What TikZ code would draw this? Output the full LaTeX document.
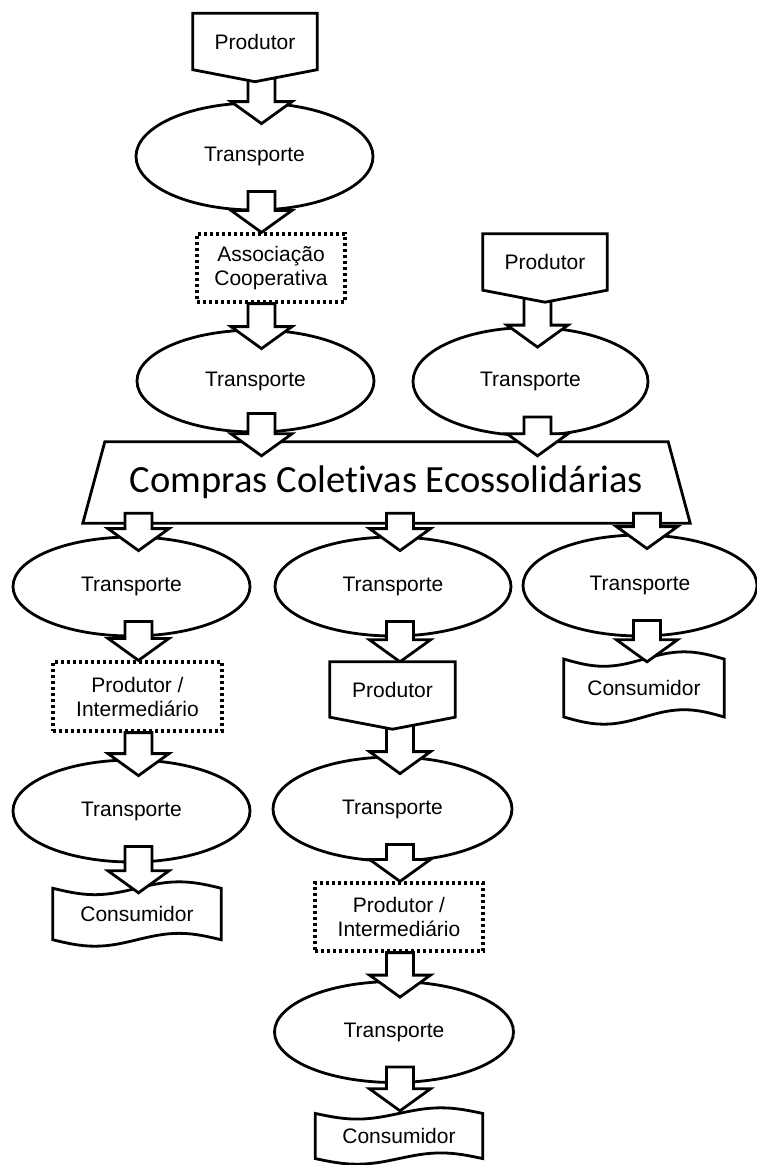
\documentclass[tikz,border=0pt]{standalone}
\usepackage{fontspec}
\setmainfont{Liberation Sans}
\newfontfamily\calibri[Ligatures=NoCommon]{Carlito}
\usetikzlibrary{shapes.geometric,calc}
\pgfdeclarelayer{bg}
\pgfdeclarelayer{fg}
\pgfdeclarelayer{fgtext}
\pgfsetlayers{bg,main,fg,fgtext}

% block arrow: #1 column node, #2 source, #3 target, #4 tail inset, #5 tip inset
\newcommand\flow[5]{%
  \draw[flowarrow] let \p1=(#1.center), \p2=(#2.south), \p3=(#3.north),
    \n1={\x1+7}, \n2={\y2+#4}, \n3={\y3-#5} in
    (\n1-13.5,\n2) -- (\n1+13.5,\n2) -- (\n1+13.5,\n3+22) -- (\n1+30.5,\n3+22)
    -- (\n1,\n3) -- (\n1-30.5,\n3+22) -- (\n1-13.5,\n3+22) -- cycle;}

% off-page connector outline around a node
\newcommand\prodoutline[1]{%
  \draw[shapeline] (#1.north west) -- (#1.north east) -- (#1.south east)
    -- ($(#1.south)+(0,-12)$) -- (#1.south west) -- cycle;}

% punched-tape outline around a node
\newcommand\tapeoutline[1]{%
  \draw[shapeline] let \p1=(#1.north west), \p2=(#1.south east),
    \n1={(\x2-\x1)/4}, \n2={0.1*(\y1-\y2)} in
    (\x1,\y1-\n2) sin (\x1+\n1,\y1-2*\n2) cos (\x1+2*\n1,\y1-\n2)
    sin (\x1+3*\n1,\y1) cos (\x2,\y1-\n2)
    -- (\x2,\y2+\n2) sin (\x2-\n1,\y2+2*\n2) cos (\x2-2*\n1,\y2+\n2)
    sin (\x1+\n1,\y2) cos (\x1,\y2+\n2) -- cycle;}

\begin{document}
\begin{tikzpicture}[x=1pt,y=1pt,
  shapeline/.style={draw=black, line width=2.8pt, fill=white},
  lbl/.style={font=\fontsize{21}{24}\selectfont, text=black, align=center, inner sep=0pt},
  transp/.style={shapeline, lbl, ellipse, minimum width=237pt, minimum height=101pt},
  dotbox/.style={draw=black, fill=white, lbl, rectangle, line width=3.2pt,
    dash pattern=on 3.2pt off 2.8pt, minimum width=168pt, minimum height=68pt},
  prodbox/.style={lbl, rectangle, minimum width=124pt, minimum height=56pt},
  tapebox/.style={lbl, rectangle, minimum width=168pt, minimum height=64pt},
  flowarrow/.style={draw=black, line width=2.8pt, fill=white, line join=miter},
]
\begin{pgfonlayer}{bg}
  \fill[white] (0,0) rectangle (757,-1165);
\end{pgfonlayer}
\useasboundingbox (0,0) rectangle (757,-1165);

% upper branch
\node[transp, minimum height=107pt] (E1) at (254.5,-156.5) {Transporte};
\node[dotbox, minimum width=148pt] (assoc) at (271,-268) {Associação\\Cooperativa};
\node[transp, minimum height=102pt] (E2) at (255.5,-381) {Transporte};
\node[transp, minimum width=235pt, minimum height=108pt] (E3) at (530.5,-381.5) {Transporte};

% collective purchasing
\node[lbl, font=\calibri\fontsize{38.5}{40}\selectfont, minimum width=563pt, minimum height=81pt]
  (cc) at (386.5,-482.5) {Compras Coletivas Ecossolidárias};
\begin{pgfonlayer}{bg}
  \draw[shapeline] (cc.north west) -- (cc.north east) -- ($(cc.south east)+(22,0)$)
    -- ($(cc.south west)+(-22,0)$) -- cycle;
\end{pgfonlayer}

% lower branches
\node[transp, minimum height=99pt] (L3) at (131.5,-586.5) {Transporte};
\node[transp, minimum width=236pt, minimum height=99pt] (M1) at (393,-586.5) {Transporte};
\node[transp, minimum width=234pt, minimum height=101pt] (R1) at (640,-585.5) {Transporte};
\node[dotbox, minimum width=169pt, minimum height=69pt] (Lbox) at (137.5,-696.5) {Produtor /\\Intermediário};
\node[transp, minimum height=102pt] (L4) at (131.5,-811) {Transporte};
\node[transp, minimum width=239pt, minimum height=104pt] (M2) at (392.5,-809) {Transporte};
\node[dotbox] (Mbox) at (399,-917) {Produtor /\\Intermediário};
\node[transp, minimum width=239pt, minimum height=101pt] (M3) at (394,-1032) {Transporte};

\node[tapebox, minimum width=160pt, minimum height=72pt] (RC) at (644,-688) {\raisebox{-3pt}{Consumidor}};
\node[tapebox, minimum width=168pt, minimum height=64pt] (LC) at (137,-914) {\raisebox{-3pt}{Consumidor}};
\node[tapebox, minimum width=167pt, minimum height=56pt] (MC) at (399,-1136) {\raisebox{-2pt}{Consumidor}};
\begin{pgfonlayer}{bg}
  \tapeoutline{RC}
  \tapeoutline{LC}
  \tapeoutline{MC}
\end{pgfonlayer}

% producers sit above the arrows
\begin{pgfonlayer}{fgtext}
  \node[prodbox] (P1) at (255,-41.5) {Produtor};
  \node[prodbox] (P2) at (545,-262) {Produtor};
  \node[prodbox, minimum width=125pt, minimum height=55pt] (P3) at (392.5,-689.5) {Produtor};
\end{pgfonlayer}
\begin{pgfonlayer}{fg}
  \prodoutline{P1}
  \prodoutline{P2}
  \prodoutline{P3}
\end{pgfonlayer}

% flow arrows
\flow{E1}{P1}{E1}{0}{22}
\flow{E1}{E1}{assoc}{20}{0}
\flow{E1}{assoc}{E2}{0}{20}
\flow{E1}{E2}{cc}{20}{14}
\flow{E3}{P2}{E3}{0}{21}
\flow{E3}{E3}{cc}{20}{14}
\flow{L3}{cc}{L3}{10}{15}
\flow{M1}{cc}{M1}{10}{15}
\flow{R1}{cc}{R1}{10}{15}
\flow{L3}{L3}{Lbox}{16}{0}
\flow{L3}{Lbox}{L4}{0}{17}
\flow{L3}{L4}{LC}{17}{11}
\flow{M1}{M1}{P3}{16}{0}
\flow{M1}{P3}{M2}{0}{18}
\flow{M1}{M2}{Mbox}{18}{0}
\flow{M1}{Mbox}{M3}{0}{17}
\flow{M1}{M3}{MC}{17}{3}
\flow{R1}{R1}{RC}{17}{10}
\end{tikzpicture}
\end{document}
